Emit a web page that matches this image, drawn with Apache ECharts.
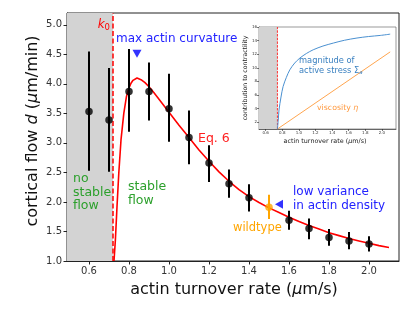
<!DOCTYPE html>
<html><head><meta charset="utf-8">
<script src="https://cdn.jsdelivr.net/npm/echarts@6/dist/echarts.min.js"></script>
<style>html,body{margin:0;padding:0;background:#fff}#c{width:415px;height:312px}</style>
</head><body><div id="c"></div>
<script>
// ---- data ----
const k0 = 0.72;
const flowX    = [0.6, 0.7, 0.8, 0.9, 1.0, 1.1, 1.2, 1.3, 1.4, 1.6, 1.7, 1.8, 1.9, 2.0];
const flowY    = [3.53, 3.39, 3.87, 3.87, 3.58, 3.09, 2.66, 2.31, 2.07, 1.69, 1.55, 1.40, 1.34, 1.29];
const flowHigh = [4.55, 4.27, 4.59, 4.36, 4.17, 3.55, 2.96, 2.55, 2.30, 1.85, 1.72, 1.54, 1.49, 1.42];
const flowLow  = [2.53, 2.51, 3.19, 3.38, 3.02, 2.64, 2.34, 2.07, 1.84, 1.53, 1.37, 1.26, 1.20, 1.16];
const wildX = [1.5], wildY = [1.91], wildHigh = [2.12], wildLow = [1.71];
const eq6X = [0.725, 0.732, 0.740, 0.749, 0.760, 0.774, 0.787, 0.80, 0.81, 0.82, 0.83, 0.84, 0.85, 0.86, 0.88, 0.90, 0.925, 0.95, 0.975,
              1.0, 1.05, 1.1, 1.15, 1.2, 1.25, 1.3, 1.35, 1.4, 1.45, 1.5, 1.55, 1.6, 1.65, 1.7, 1.75, 1.8, 1.85, 1.9, 1.95, 2.0, 2.05, 2.1];
const eq6Y = [1.00, 1.36, 1.92, 2.49, 3.05, 3.50, 3.78, 3.93, 4.01, 4.06, 4.09, 4.10, 4.09, 4.07, 4.02, 3.95, 3.85, 3.74, 3.63,
              3.52, 3.30, 3.09, 2.88, 2.69, 2.51, 2.35, 2.21, 2.09, 1.99, 1.90, 1.82, 1.74, 1.67, 1.60, 1.54, 1.48, 1.43, 1.38, 1.34, 1.30, 1.26, 1.23];
const maxCurvX = [0.84], maxCurvY = [4.51];
const lowVarX = [1.55], lowVarY = [1.96];
const xTicks = [0.6, 0.8, 1.0, 1.2, 1.4, 1.6, 1.8, 2.0];
const yTicks = [1.0, 1.5, 2.0, 2.5, 3.0, 3.5, 4.0, 4.5, 5.0];
// inset
const insetK0 = 0.742;
const stressX = [0.742, 0.752, 0.761, 0.785, 0.81, 0.85, 0.891, 0.95, 1.012, 1.09, 1.173, 1.29, 1.416, 1.55, 1.70, 1.84, 1.98, 2.1];
const stressY = [1.0, 2.3, 3.8, 5.7, 7.24, 8.6, 9.70, 10.7, 11.43, 12.1, 12.65, 13.2, 13.64, 14.05, 14.38, 14.6, 14.76, 14.95];
const viscX = [0.742, 2.1];
const viscY = [1.0, 12.34];
const insetXTicks = [0.6, 0.8, 1.0, 1.2, 1.4, 1.6, 1.8, 2.0];
const insetYTicks = [2, 4, 6, 8, 10, 12, 14, 16];

const F = 'DejaVu Sans';
const zip = (a, b) => a.map((v, i) => [v, b[i]]);
const zip3 = (a, b, c) => a.map((v, i) => [v, b[i], c[i]]);

function errBar(color) {
  return function (params, api) {
    const x = api.value(0);
    const p1 = api.coord([x, api.value(1)]);
    const p2 = api.coord([x, api.value(2)]);
    return { type: 'line', shape: { x1: p1[0], y1: p1[1], x2: p2[0], y2: p2[1] },
             style: { stroke: color, lineWidth: 2 } };
  };
}

const chart = echarts.init(document.getElementById('c'), null, { renderer: 'canvas' });
const axisCommon = (ticks, min, max, fs, dec) => ({
  type: 'value', min: min, max: max,
  splitLine: { show: false },
  axisLine: { show: true, onZero: false, lineStyle: { color: '#222', width: fs > 6 ? 1 : 0.6 } },
  axisTick: { show: true, inside: false, length: fs > 6 ? 3.5 : 2, customValues: ticks, lineStyle: { color: '#222', width: fs > 6 ? 1 : 0.6 } },
  axisLabel: { show: true, customValues: ticks, fontFamily: F, fontSize: fs, color: '#333', margin: fs > 6 ? 5 : 2,
               formatter: v => (dec ? Number(v).toFixed(dec) : String(Math.round(v))) }
});

const option = {
  animation: false,
  backgroundColor: '#fff',
  grid: [
    { left: 67, right: 16, top: 13, bottom: 51, show: true, borderColor: '#222', borderWidth: 1, backgroundColor: 'transparent' },
    { left: 259, top: 27, width: 137, height: 102, show: true, borderColor: '#555', borderWidth: 0.6, backgroundColor: 'transparent' }
  ],
  xAxis: [
    Object.assign(axisCommon(xTicks, 0.49, 2.15, 10, 1), { gridIndex: 0 }),
    Object.assign(axisCommon(insetXTicks, 0.52, 2.17, 4, 1), { gridIndex: 1 })
  ],
  yAxis: [
    Object.assign(axisCommon(yTicks, 1.0, 5.2, 10, 1), { gridIndex: 0 }),
    Object.assign(axisCommon(insetYTicks, 1, 16, 4, 0), { gridIndex: 1 })
  ],
  series: [
    { type: 'line', xAxisIndex: 0, yAxisIndex: 0, data: zip(eq6X, eq6Y), showSymbol: false, symbol: 'none',
      lineStyle: { color: '#ff0000', width: 1.6 }, z: 3, clip: true,
      markArea: { silent: true, itemStyle: { color: '#d3d3d3' }, data: [[{ xAxis: 0.49 }, { xAxis: k0 }]] },
      markLine: { silent: true, symbol: 'none', label: { show: false },
                  lineStyle: { color: '#ff0000', width: 1.5, type: [5, 2.5] }, data: [{ xAxis: k0 }] } },
    { type: 'custom', xAxisIndex: 0, yAxisIndex: 0, renderItem: errBar('#000'), data: zip3(flowX, flowLow, flowHigh), z: 4,
      encode: { x: 0, y: [1, 2] } },
    { type: 'scatter', xAxisIndex: 0, yAxisIndex: 0, data: zip(flowX, flowY), symbol: 'circle', symbolSize: 7.5,
      itemStyle: { color: '#000' }, z: 5 },
    { type: 'custom', xAxisIndex: 0, yAxisIndex: 0, renderItem: errBar('#ffa500'), data: zip3(wildX, wildLow, wildHigh), z: 4,
      encode: { x: 0, y: [1, 2] } },
    { type: 'scatter', xAxisIndex: 0, yAxisIndex: 0, data: zip(wildX, wildY), symbol: 'circle', symbolSize: 7.5,
      itemStyle: { color: '#ffa500' }, z: 5 },
    { type: 'scatter', xAxisIndex: 0, yAxisIndex: 0, data: zip(maxCurvX, maxCurvY), symbol: 'triangle', symbolRotate: 180,
      symbolSize: [9, 8], itemStyle: { color: '#0000ff' }, z: 5 },
    { type: 'scatter', xAxisIndex: 0, yAxisIndex: 0, data: zip(lowVarX, lowVarY), symbol: 'triangle', symbolRotate: 90,
      symbolSize: [9, 8], itemStyle: { color: '#0000ff' }, z: 5 },
    // inset
    { type: 'line', xAxisIndex: 1, yAxisIndex: 1, data: zip(viscX, viscY), showSymbol: false, symbol: 'none',
      lineStyle: { color: '#ffa54f', width: 1 }, z: 3,
      markArea: { silent: true, itemStyle: { color: '#d3d3d3', opacity: 1 }, data: [[{ xAxis: 0.52 }, { xAxis: insetK0 }]] } },
    { type: 'line', xAxisIndex: 1, yAxisIndex: 1, data: [[insetK0, 1], [insetK0, 16]], showSymbol: false, symbol: 'none',
      lineStyle: { color: '#ff2020', width: 0.9, type: [2.5, 1.2] }, z: 3 },
    { type: 'line', xAxisIndex: 1, yAxisIndex: 1, data: zip(stressX, stressY), showSymbol: false, symbol: 'none', smooth: 0.3,
      lineStyle: { color: '#4a90d0', width: 1 }, z: 4 }
  ],
  graphic: [
    { type: 'text', x: 33, y: 131, rotation: Math.PI / 2, z: 10,
      style: { text: '{n|cortical flow }{i|d}{n| (}{i|μ}{n|m/min)}', align: 'center', verticalAlign: 'middle',
               rich: { n: { fontFamily: F, fontSize: 16, fill: '#111' }, i: { fontFamily: F, fontSize: 16, fontStyle: 'italic', fill: '#111' } } } },
    { type: 'text', x: 234, y: 290, z: 10,
      style: { text: '{n|actin turnover rate (}{i|μ}{n|m/s)}', align: 'center', verticalAlign: 'middle',
               rich: { n: { fontFamily: F, fontSize: 16, fill: '#111' }, i: { fontFamily: F, fontSize: 16, fontStyle: 'italic', fill: '#111' } } } },
    { type: 'text', x: 110, y: 25, z: 10,
      style: { text: '{k|k}{s|0}', align: 'right', verticalAlign: 'middle',
               rich: { k: { fontFamily: F, fontSize: 12, fontStyle: 'italic', fill: '#ff0000' },
                       s: { fontFamily: F, fontSize: 8.5, fill: '#ff0000', padding: [6, 0, 0, 0] } } } },
    { type: 'text', x: 116, y: 39, z: 10,
      style: { text: 'max actin curvature', fontFamily: F, fontSize: 12, fill: '#2222ff', verticalAlign: 'middle' } },
    { type: 'text', x: 198, y: 139, z: 10,
      style: { text: 'Eq. 6', fontFamily: F, fontSize: 12.5, fill: '#ff2020', verticalAlign: 'middle' } },
    { type: 'text', x: 73, y: 172, z: 10,
      style: { text: 'no\nstable\nflow', fontFamily: F, fontSize: 12.5, lineHeight: 13.6, fill: '#2ca02c', verticalAlign: 'top' } },
    { type: 'text', x: 128, y: 180, z: 10,
      style: { text: 'stable\nflow', fontFamily: F, fontSize: 12.5, lineHeight: 13.6, fill: '#2ca02c', verticalAlign: 'top' } },
    { type: 'text', x: 233, y: 228, z: 10,
      style: { text: 'wildtype', fontFamily: F, fontSize: 11.5, fill: '#ffa500', verticalAlign: 'middle' } },
    { type: 'text', x: 293, y: 185, z: 10,
      style: { text: 'low variance\nin actin density', fontFamily: F, fontSize: 12, lineHeight: 13.6, fill: '#2222ff', verticalAlign: 'top' } },
    // inset texts
    { type: 'text', x: 245, y: 78, rotation: Math.PI / 2, z: 10,
      style: { text: 'contribution to contractility', fontFamily: F, fontSize: 6.2, fill: '#222', align: 'center', verticalAlign: 'middle' } },
    { type: 'text', x: 325, y: 141.5, z: 10,
      style: { text: '{n|actin turnover rate (}{i|μ}{n|m/s)}', align: 'center', verticalAlign: 'middle',
               rich: { n: { fontFamily: F, fontSize: 6.4, fill: '#222' }, i: { fontFamily: F, fontSize: 6.4, fontStyle: 'italic', fill: '#222' } } } },
    { type: 'text', x: 299, y: 56.5, z: 10,
      style: { text: '{n|magnitude of}\n{n|active stress Σ}{s|a}', verticalAlign: 'top',
               rich: { n: { fontFamily: F, fontSize: 8.3, fill: '#3a80c0', lineHeight: 9.5 }, s: { fontFamily: F, fontSize: 5.5, fontStyle: 'italic', fill: '#3a80c0', lineHeight: 9.5, padding: [3, 0, 0, 0] } } } },
    { type: 'text', x: 317, y: 107.5, z: 10,
      style: { text: '{n|viscosity }{i|η}', verticalAlign: 'middle',
               rich: { n: { fontFamily: F, fontSize: 7.8, fill: '#ff9a40' }, i: { fontFamily: F, fontSize: 7.8, fontStyle: 'italic', fill: '#ff9a40' } } } }
  ]
};
chart.setOption(option);
</script></body></html>
